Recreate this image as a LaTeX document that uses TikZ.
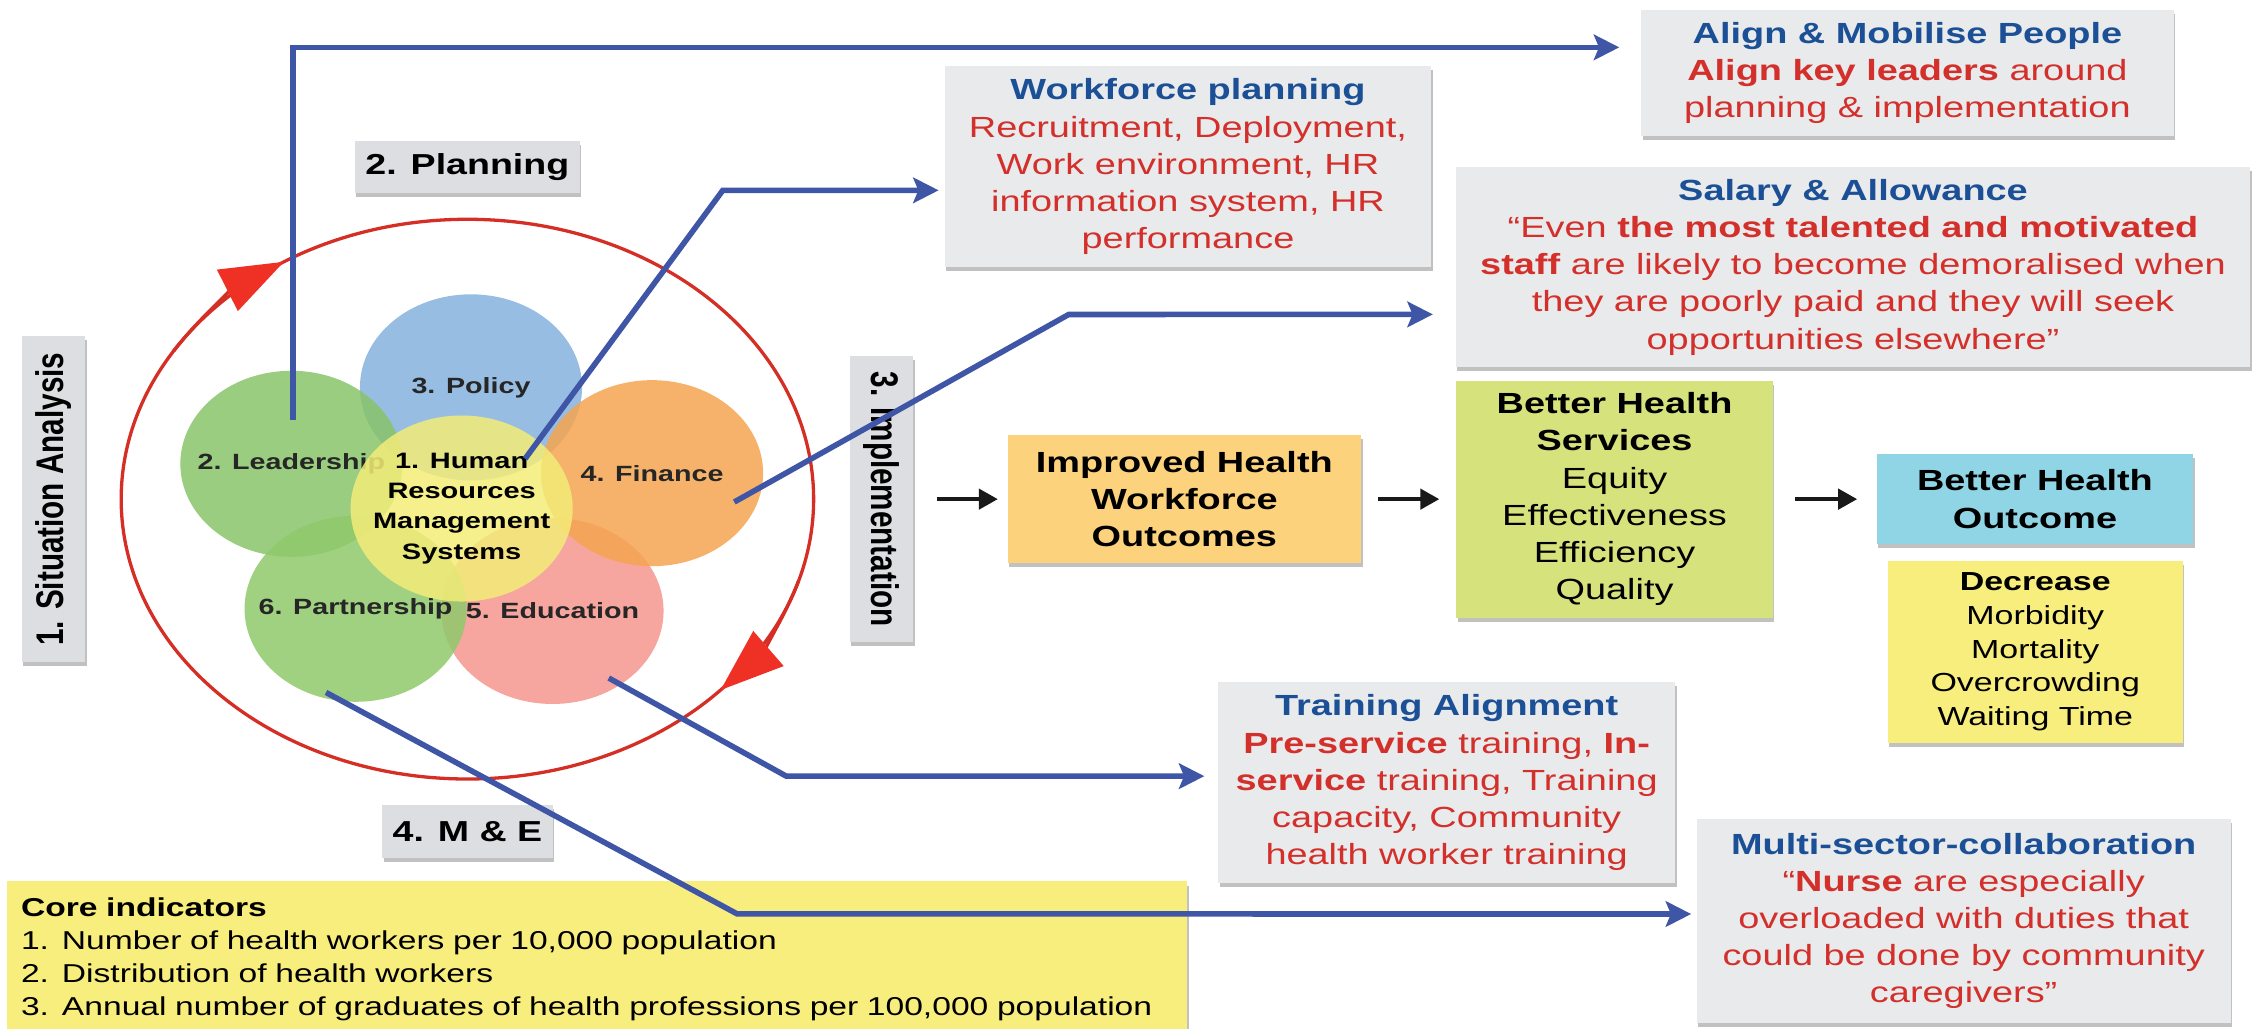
\documentclass[tikz,border=0pt]{standalone}
\usepackage{fontspec}
\setmainfont[FakeStretch=1.3]{Liberation Sans}
\newfontfamily\upfont[FakeStretch=0.77]{Liberation Sans}
\usetikzlibrary{shapes.geometric,arrows.meta,shadows}
\definecolor{notegray}{HTML}{E9EAEC}
\definecolor{stagegray}{HTML}{DDDEE1}
\definecolor{noteblue}{HTML}{1C5096}
\definecolor{notered}{HTML}{D3302B}
\definecolor{linkblue}{HTML}{3F55A6}
\definecolor{turnred}{HTML}{D42E25}
\definecolor{turnhead}{HTML}{EE3124}
\definecolor{impyellow}{HTML}{FCD37C}
\definecolor{srvgreen}{HTML}{D6E37C}
\definecolor{outblue}{HTML}{8FD5E5}
\definecolor{padyellow}{HTML}{F8EE7E}
\definecolor{policyblue}{HTML}{86B2DE}
\definecolor{leadgreen}{HTML}{88C469}
\definecolor{finorange}{HTML}{F5A550}
\definecolor{edupink}{HTML}{F5968E}
\definecolor{partgreen}{HTML}{8FC96B}
\definecolor{hryellow}{HTML}{F3EC78}
\definecolor{petaltext}{HTML}{262626}

\begin{document}
\begin{tikzpicture}[x=0.02cm, y=0.02cm]
    \tikzstyle{every node}+=[inner sep=0pt]
    \tikzstyle{boxshadow}=[drop shadow={shadow xshift=0.6pt, shadow yshift=-1.6pt, opacity=0.35, fill=black!70}]
    \tikzstyle{note}=[boxshadow, fill=notegray, align=center, text=notered, font=\fontsize{11.5}{14.65}\selectfont]
    \tikzstyle{result}=[boxshadow, align=center, text=black, font=\fontsize{11.5}{14.65}\selectfont]
    \tikzstyle{stage}=[boxshadow, fill=stagegray, text=black, font=\bfseries\fontsize{11.4}{13}\selectfont]
    \tikzstyle{upstage}=[stage, font=\upfont\bfseries\fontsize{15.2}{16}\selectfont]
    \tikzstyle{petal}=[ellipse, minimum width=3.08cm, minimum height=2.58cm, fill opacity=0.85]
    \tikzstyle{petalname}=[fill opacity=1, text opacity=1, text=petaltext, align=center, font=\bfseries\fontsize{8.7}{11.9}\selectfont]
    \tikzstyle{link}=[draw=linkblue, line width=2.2pt, -{Stealth[length=10pt,width=10pt,inset=2pt]}]
    \tikzstyle{flow}=[draw=black!90, line width=1.5pt, -{Triangle[length=7.5pt,width=8pt]}]
    \tikzstyle{turn}=[draw=turnred, line width=1.3pt]
    \useasboundingbox (0,0) rectangle (1568,-713);

    \coordinate (loopc) at (324,-346);
    \draw [turn] (loopc) ellipse (240 and 194);
    \draw [turn, -{Triangle[length=25pt,width=18pt,color=turnhead]}] (loopc) ++(148:240 and 194) arc (148:122:240 and 194);
    \draw [turn, -{Triangle[length=25pt,width=18pt,color=turnhead]}] (loopc) ++(-17:240 and 194) arc (-17:-43:240 and 194);

    \node [petal, fill=policyblue, label={[petalname]center:3. Policy}] (policy) at (326.5,-268.5) {};
    \node [petal, fill=leadgreen, label={[petalname]center:2. Leadership}] (leader) at (202,-321.5) {};
    \node [petal, fill=edupink, label={[petalname]center:5. Education}] (educ) at (383,-423.5) {};
    \node [petal, fill=finorange, label={[petalname]center:4. Finance}] (finance) at (452,-328) {};
    \node [petal, fill=partgreen, label={[petalname]center:6. Partnership}] (partner) at (246.5,-422) {};
    \node [petal, fill=hryellow, label={[petalname, text=black, font=\bfseries\fontsize{8.8}{11.9}\selectfont]center:1. Human\\Resources\\Management\\Systems}] (hrms) at (320,-352.5) {};

    \node [upstage, rotate=90, minimum width=4.52cm, minimum height=0.88cm] (situation) at (37,-346) {1. Situation Analysis};
    \node [stage, minimum width=3.12cm, minimum height=0.72cm] (planning) at (324,-116) {2. Planning};
    \node [upstage, rotate=-90, minimum width=3.96cm, minimum height=0.88cm] (impl) at (611,-346) {3. Implementation};
    \node [stage, minimum width=2.36cm, minimum height=0.74cm] (monitor) at (324,-576.5) {4. M \& E};

    \node [note, minimum width=7.38cm, minimum height=1.75cm] (align) at (1322.2,-50.75) {\textcolor{noteblue}{\textbf{Align \& Mobilise People}}\\\textbf{Align key leaders} around\\planning \& implementation};
    \node [note, minimum width=6.74cm, minimum height=2.78cm] (wfp) at (823.5,-115.5) {\textcolor{noteblue}{\textbf{Workforce planning}}\\Recruitment, Deployment,\\Work environment, HR\\information system, HR\\performance};
    \node [note, minimum width=11.02cm, minimum height=2.77cm] (salary) at (1284.5,-185.25) {\textcolor{noteblue}{\textbf{Salary \& Allowance}}\\“Even \textbf{the most talented and motivated}\\\textbf{staff} are likely to become demoralised when\\they are poorly paid and they will seek\\opportunities elsewhere”};
    \node [note, minimum width=6.34cm, minimum height=2.78cm] (train) at (1002.8,-542.5) {\textcolor{noteblue}{\textbf{Training Alignment}}\\\textbf{Pre-service} training, \textbf{In-}\\\textbf{service} training, Training\\capacity, Community\\health worker training};
    \node [note, minimum width=7.41cm, minimum height=2.82cm] (multi) at (1361.2,-638.5) {\textcolor{noteblue}{\textbf{Multi-sector-collaboration}}\\“\textbf{Nurse} are especially\\overloaded with duties that\\could be done by community\\caregivers”};

    \node [result, fill=impyellow, font=\bfseries\fontsize{11.5}{14.65}\selectfont, minimum width=4.9cm, minimum height=1.78cm] (ihwo) at (821,-346) {Improved Health\\Workforce\\Outcomes};
    \node [result, fill=srvgreen, minimum width=4.39cm, minimum height=3.29cm] (bhs) at (1119.2,-346) {\textbf{Better Health}\\\textbf{Services}\\Equity\\Effectiveness\\Efficiency\\Quality};
    \node [result, fill=outblue, font=\bfseries\fontsize{11.5}{14.65}\selectfont, minimum width=4.39cm, minimum height=1.25cm] (bho) at (1410.6,-346) {Better Health\\Outcome};
    \node [result, fill=padyellow, font=\fontsize{10.3}{13.3}\selectfont, minimum width=4.09cm, minimum height=2.53cm] (decr) at (1410.8,-451.8) {\textbf{Decrease}\\Morbidity\\Mortality\\Overcrowding\\Waiting Time};
    \node [result, fill=padyellow, font=\fontsize{10.2}{13}\selectfont, align=left, minimum width=16.36cm, minimum height=2.16cm, text width=15.98cm] (core) at (414,-665) {\textbf{Core indicators}\\1. Number of health workers per 10,000 population\\2. Distribution of health workers\\3. Annual number of graduates of health professions per 100,000 population};

    \draw [flow, shorten <=9.1pt, shorten >=3.7pt] (impl.north) -- (ihwo.west);
    \draw [flow, shorten <=6.5pt, shorten >=6.5pt] (ihwo.east) -- (bhs.west);
    \draw [flow, shorten <=8.7pt, shorten >=7.5pt] (bhs.east) -- (bho.west);

    \coordinate (leadpin) at (203,-291);
    \coordinate (hrpin) at (364,-318);
    \coordinate (finpin) at (509,-348);
    \coordinate (edupin) at (422,-470);
    \coordinate (partpin) at (226,-480);
    \draw [link] (leadpin) |- ([xshift=-8.5pt,yshift=10.2pt]align.west);
    \draw [link] (hrpin) -- (501,-132) -- ([xshift=-2.3pt,yshift=-9.35pt]wfp.west);
    \draw [link] (finpin) -- (740.8,-218) -- ([xshift=-8.8pt,yshift=-18.6pt]salary.west);
    \draw [link] (edupin) -- (545,-538) -- ([xshift=-5.2pt,yshift=2.55pt]train.west);
    \draw [link] (partpin) -- (511,-633.5) -- ([xshift=-1.9pt,yshift=2.8pt]multi.west);
\end{tikzpicture}
\end{document}
